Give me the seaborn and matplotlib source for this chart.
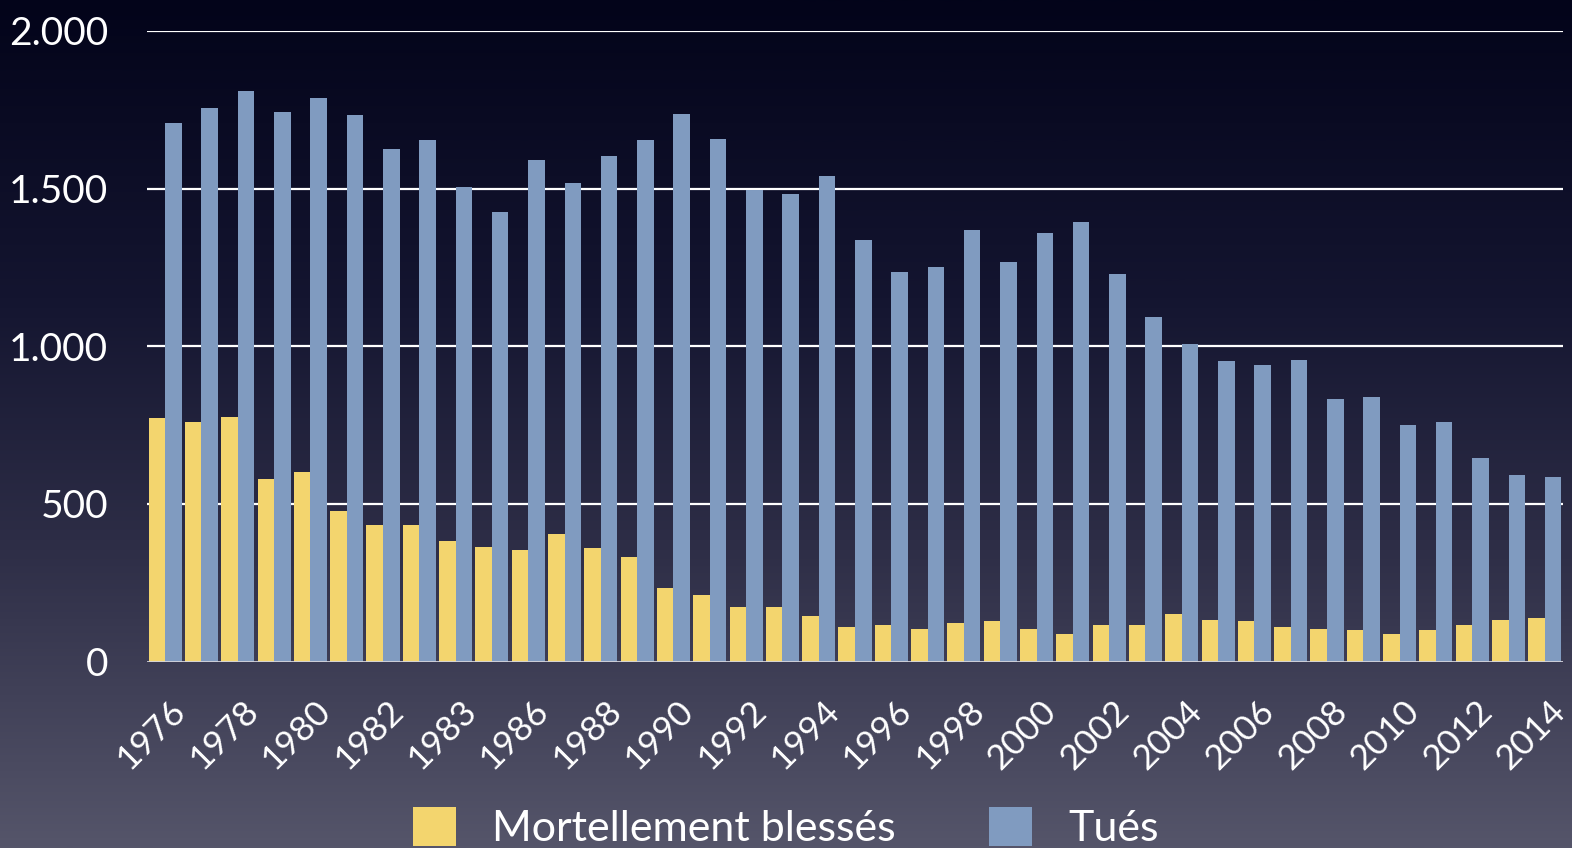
import numpy as np
import pandas as pd
import matplotlib
matplotlib.use("Agg")
import matplotlib.pyplot as plt
import matplotlib.transforms as mtransforms
from matplotlib.colors import LinearSegmentedColormap
import seaborn as sns

# ---- data ----
years = list(range(1976, 2015))
blesses = [772, 761, 775, 579, 602, 477, 433, 433, 382, 363,
           354, 405, 361, 332, 234, 211, 173, 173, 144, 109,
           116, 103, 122, 128, 103, 87, 116, 116, 151, 132,
           128, 109, 103, 100, 87, 100, 116, 132, 138]
tues = [1708, 1756, 1810, 1743, 1788, 1733, 1626, 1654, 1504, 1426,
        1591, 1518, 1603, 1654, 1736, 1658, 1495, 1483, 1540, 1337,
        1236, 1251, 1369, 1267, 1359, 1394, 1229, 1093, 1007, 953,
        940, 956, 833, 839, 751, 760, 646, 592, 585]
series = ["Mortellement blessés", "Tués"]
tick_labels = ["1976", "1978", "1980", "1982", "1983", "1986", "1988", "1990",
               "1992", "1994", "1996", "1998", "2000", "2002", "2004", "2006",
               "2008", "2010", "2012", "2014"]
y_ticks = [0, 500, 1000, 1500, 2000]
y_tick_labels = ["0", "500", "1.000", "1.500", "2.000"]

df = pd.DataFrame({
    "year": [str(y) for y in years] * 2,
    "value": blesses + tues,
    "serie": [series[0]] * len(years) + [series[1]] * len(years),
})

sns.set_theme(style="white")
plt.rcParams["font.family"] = ["Lato", "DejaVu Sans"]

W, H = 1572, 848
fig = plt.figure(figsize=(W / 100, H / 100), dpi=100)

# background gradient
bg = fig.add_axes([0, 0, 1, 1], zorder=-10)
cmap = LinearSegmentedColormap.from_list(
    "bg", [(0.0, "#03041a"), (0.35, "#141530"), (0.65, "#2e2e47"), (1.0, "#55556a")])
grad = np.linspace(0, 1, 512).reshape(-1, 1)
bg.imshow(grad, aspect="auto", cmap=cmap, extent=[0, 1, 0, 1], origin="upper")
bg.set_axis_off()

ax = fig.add_axes([147 / W, 1 - 661.5 / H, (1563 - 147) / W, (661.5 - 31) / H])
ax.set_facecolor("none")

palette = {series[0]: "#F3D56E", series[1]: "#809BC0"}
sns.barplot(data=df, x="year", y="value", hue="serie", hue_order=series,
            palette=palette, width=0.91, saturation=1, linewidth=0,
            ax=ax, zorder=3)

handles, labels = ax.get_legend_handles_labels()
if ax.get_legend() is not None:
    ax.get_legend().remove()

ax.set_xlim(-0.5, len(years) - 0.5)
ax.set_ylim(0, 2000)
ax.set_xlabel("")
ax.set_ylabel("")

# grid
ax.set_yticks(y_ticks)
ax.set_yticklabels(y_tick_labels)
for v in y_ticks[1:]:
    ax.axhline(v, color="white", lw=1.6, zorder=1)
ax.axhline(0, color="#d4d4dc", lw=2, zorder=4)

for s in ax.spines.values():
    s.set_visible(False)

ax.tick_params(axis="y", length=0, pad=28, labelsize=28, labelcolor="white")
ax.set_xticks(list(range(0, len(years), 2)))
ax.set_xticklabels(tick_labels, rotation=45, ha="center")
ax.tick_params(axis="x", length=0, pad=24, labelsize=25.5, labelcolor="white")
ax.set_xticks(np.arange(-0.5, len(years), 1), minor=True)
ax.tick_params(axis="x", which="minor", direction="in", length=4, width=1.5,
               color="#d4d4dc")
offset = mtransforms.ScaledTranslation(-14 / 100, 0, fig.dpi_scale_trans)
for lab in ax.get_xticklabels():
    lab.set_transform(lab.get_transform() + offset)

leg = fig.legend(handles, labels, loc="lower center",
                 bbox_to_anchor=(0.5, 0.0), ncol=2, frameon=False,
                 fontsize=31, labelcolor="white", handlelength=1.0,
                 handleheight=1.0, handletextpad=0.84, columnspacing=2.16,
                 borderpad=0, borderaxespad=0)

fig.savefig("out.png", dpi=100)
